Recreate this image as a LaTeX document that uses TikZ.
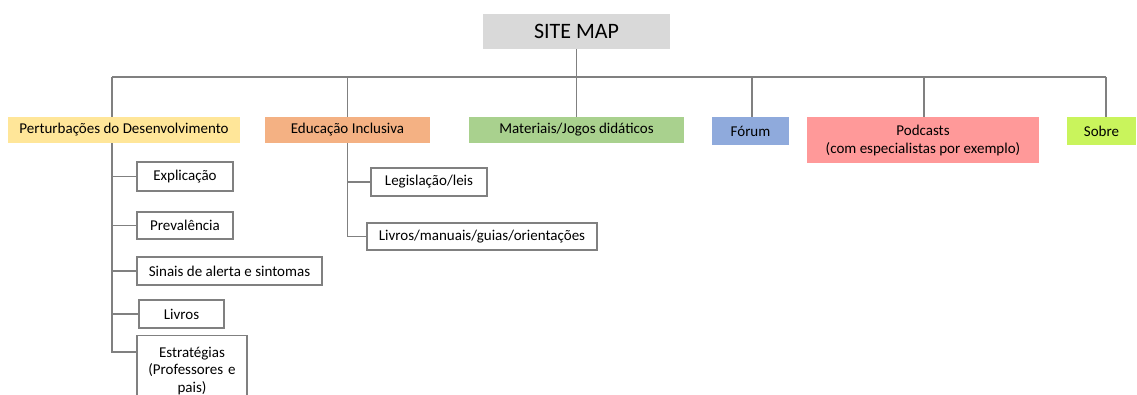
\documentclass[tikz,border=0pt]{standalone}
\usepackage{fontspec}
\setmainfont{Carlito}
\usetikzlibrary{calc}

\definecolor{sitegray}{HTML}{D9D9D9}
\definecolor{linegray}{HTML}{808080}
\definecolor{pertyellow}{HTML}{FFE699}
\definecolor{educorange}{HTML}{F4B183}
\definecolor{matgreen}{HTML}{A9D18E}
\definecolor{forumblue}{HTML}{8FAADC}
\definecolor{podred}{HTML}{FF9999}
\definecolor{sobrelime}{HTML}{C9F45C}

\begin{document}
\begin{tikzpicture}[x=1pt,y=-1pt,
  link/.style={draw=linegray,line width=1.2pt},
  topbox/.style={fill=#1,inner sep=0pt,align=center,font=\fontsize{15}{18}\selectfont},
  subbox/.style={draw=linegray,line width=1.1pt,fill=white,inner sep=0pt,align=center,font=\fontsize{15}{17.5}\selectfont}]
\useasboundingbox (0,0) rectangle (1137,394);
\clip (0,0) rectangle (1137,394);

% site map and main sections
\node[fill=sitegray,minimum width=187pt,minimum height=35pt,font=\fontsize{22}{26}\selectfont] (site) at (576.5,31.5) {SITE MAP};
\node[topbox=pertyellow,minimum width=232pt,minimum height=26pt] (pert) at (124,130) {Perturbações do Desenvolvimento};
\node[topbox=educorange,minimum width=165pt,minimum height=26pt] (educ) at (347.5,130) {Educação Inclusiva};
\node[topbox=matgreen,minimum width=215pt,minimum height=26pt] (mat) at (576.5,130) {Materiais/Jogos didáticos};
\node[topbox=forumblue,minimum width=77pt,minimum height=28pt] (forum) at (750.5,131) {Fórum};
\node[topbox=podred,minimum width=232pt,minimum height=46pt] (pod) at (923,140) {Podcasts\\(com especialistas por exemplo)};
\node[topbox=sobrelime,minimum width=69pt,minimum height=28pt] (sobre) at (1101.5,131) {Sobre};

% bus
\coordinate (busL) at (112,77);
\coordinate (busR) at (1106,77);
\draw[link] (busL) -- (busR);
\draw[link] (site.south) -- (mat.north);
\draw[link] (busL) -- (busL |- pert.north);
\draw[link] (educ.north |- busL) -- (educ.north);
\draw[link] (752,77) -- (752,117);
\draw[link] (924,77) -- (924,117);
\draw[link] (busR) -- (busR |- sobre.north);

% Perturbacoes sub pages
\node[subbox,minimum width=96pt,minimum height=29pt] (expl) at (185,176.5) {Explicação};
\node[subbox,minimum width=96pt,minimum height=27pt] (prev) at (185,225.5) {Prevalência};
\node[subbox,minimum width=185pt,minimum height=28pt] (sinais) at (229.5,271) {Sinais de alerta e sintomas};
\node[subbox,minimum width=85pt,minimum height=28pt] (livros) at (181.5,314) {Livros};
\node[subbox,minimum width=110pt,text width=104pt,minimum height=70pt,anchor=north,inner ysep=5pt] (estr) at (192,335) {Estratégias\\(Professores e\\pais)};
\coordinate (pspine) at (112,0);
\draw[link] (pspine |- pert.south) -- (pspine |- estr.north) -- ++(0,17) -- ($(estr.north west)+(0,17)$);
\foreach \n in {expl,prev,sinais,livros}
  \draw[link] (pspine |- \n.west) -- (\n.west);

% Educacao sub pages
\node[subbox,minimum width=116pt,minimum height=28pt] (legis) at (429,182) {Legislação/leis};
\node[subbox,minimum width=230pt,minimum height=27pt] (livm) at (482,236.5) {Livros/manuais/guias/orientações};
\draw[link] (educ.south) -- (educ.south |- livm.west) -- (livm.west);
\draw[link] (educ.south |- legis.west) -- (legis.west);
\end{tikzpicture}
\end{document}
